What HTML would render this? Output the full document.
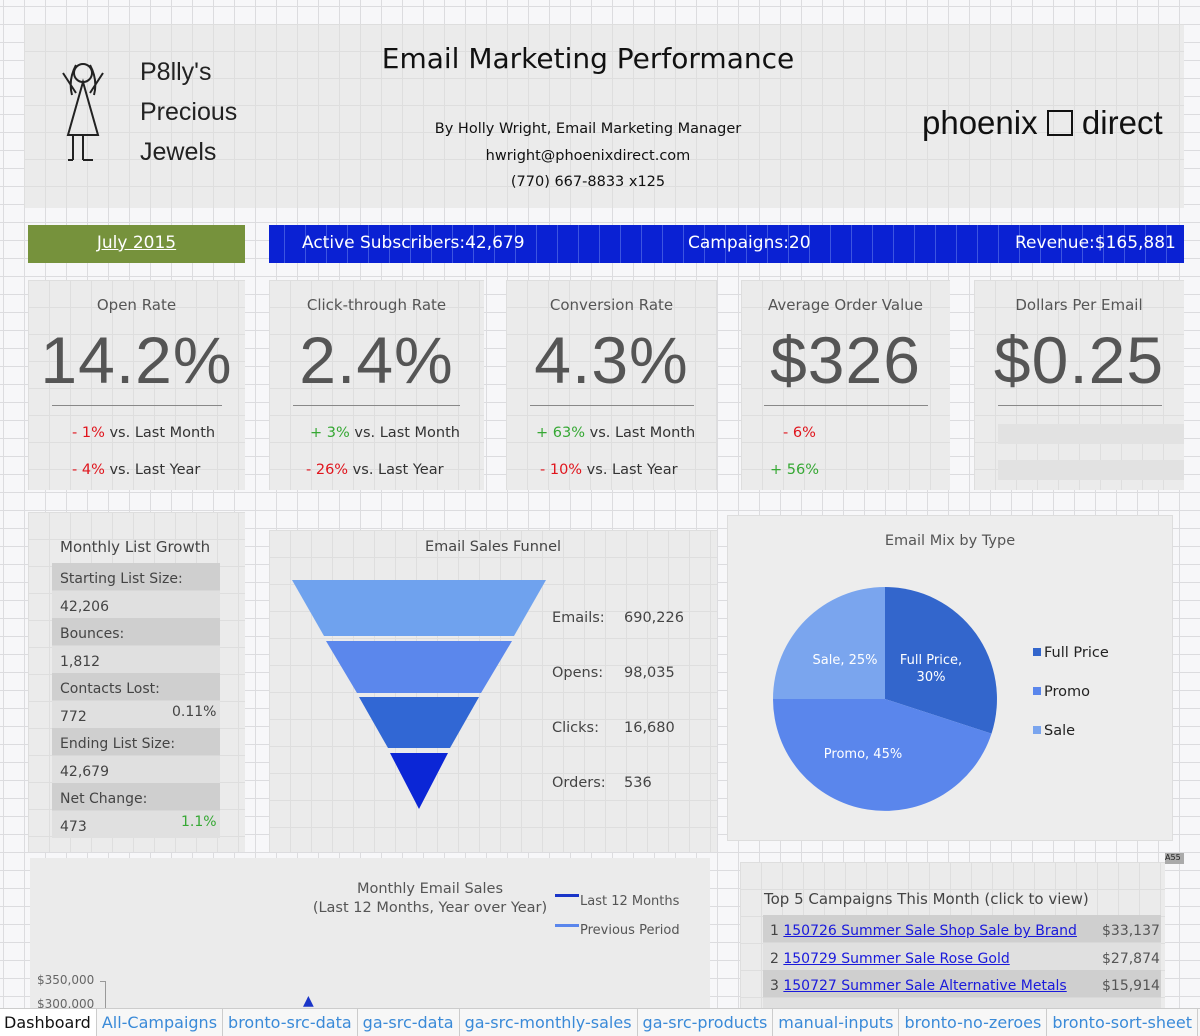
<!DOCTYPE html>
<html><head><meta charset="utf-8"><style>
*{margin:0;padding:0;box-sizing:border-box}
body{width:1200px;height:1036px;overflow:hidden;position:relative;font-family:"DejaVu Sans","Liberation Sans",sans-serif;color:#333;
background-color:#f7f7f9;
background-image:linear-gradient(to right,#dcdcdf 1px,transparent 1px),linear-gradient(to bottom,#dcdcdf 1px,transparent 1px);
background-size:21px 100%,100% 18px;background-position:3px 0,0 6px}
.a{position:absolute}
.g{position:absolute;background-color:#ebebeb;background-image:linear-gradient(to right,#dedede 1px,transparent 1px),linear-gradient(to bottom,#dedede 1px,transparent 1px);background-size:21px 100%,100% 27px}
.t{position:absolute;white-space:nowrap}
.c{text-align:center}
.red{color:#e0151d}.grn{color:#36a834}
.big{font-size:66px;color:#555;font-family:"Liberation Sans",sans-serif;letter-spacing:1px}
.kt{font-size:15px;color:#555}
a{color:#1a1adb}
.tab{display:inline-block;padding:4px 5px 0;height:27px;color:#3a8ad8;border-right:1px solid #ccc}
</style></head><body>
<div class="g" style="left:24px;top:24px;width:1160px;height:184px"></div>
<svg class="a" style="left:58px;top:55px" width="70" height="110" viewBox="0 0 70 110"><g fill="none" stroke="#222" stroke-width="2"><circle cx="25" cy="18" r="9"/><path d="M18 10 Q10 25 14 40 M32 10 Q40 25 36 40 M25 27 L10 80 L40 80 Z M25 80 V105 M15 80 V105 M25 105 H35 M15 105 H10 M18 38 L5 18 M32 38 L45 18"/></g></svg>
<div class="t" style="left:140px;top:52px;font-size:25px;line-height:40px;font-family:'Liberation Sans',sans-serif;color:#222">P8lly's<br>Precious<br>Jewels</div>
<div class="t c" style="left:340px;width:496px;top:42px;font-size:28px;color:#111">Email Marketing Performance</div>
<div class="t c" style="left:340px;width:496px;top:116px;font-size:14.5px;line-height:26.5px;color:#111">By Holly Wright, Email Marketing Manager<br>hwright@phoenixdirect.com<br>(770) 667-8833 x125</div>
<div class="t" style="left:922px;top:104px;font-size:33px;color:#111;font-family:'Liberation Sans',sans-serif">phoenix <span style="display:inline-block;width:26px;height:26px;border:2.5px solid #111;vertical-align:-2px"></span> direct</div>
<div class="a" style="left:28px;top:225px;width:217px;height:38px;background:#76923c"></div>
<div class="t c" style="left:28px;width:217px;top:233px;font-size:17px;color:#fff;text-decoration:underline">July 2015</div>
<div class="a" style="left:269px;top:225px;width:915px;height:38px;background:#0a21d3;background-image:linear-gradient(to right,#3d55e0 1px,transparent 1px);background-size:21px 100%;background-position:-6px 0"></div>
<div class="t" style="left:302px;top:233px;font-size:17px;color:#fff">Active Subscribers:42,679</div>
<div class="t" style="left:688px;top:233px;font-size:17px;color:#fff">Campaigns:20</div>
<div class="t" style="left:1015px;top:233px;font-size:17px;color:#fff">Revenue:$165,881</div>
<div class="g" style="left:28px;top:280px;width:217px;height:210px"></div>
<div class="g" style="left:269px;top:280px;width:215px;height:210px"></div>
<div class="g" style="left:506px;top:280px;width:211px;height:210px"></div>
<div class="g" style="left:741px;top:280px;width:209px;height:210px"></div>
<div class="g" style="left:974px;top:280px;width:210px;height:210px"></div>
<div class="t c kt" style="left:28px;width:217px;top:296px">Open Rate</div>
<div class="t c kt" style="left:269px;width:215px;top:296px">Click-through Rate</div>
<div class="t c kt" style="left:506px;width:211px;top:296px">Conversion Rate</div>
<div class="t c kt" style="left:741px;width:209px;top:296px">Average Order Value</div>
<div class="t c kt" style="left:974px;width:210px;top:296px">Dollars Per Email</div>
<div class="t c big" style="left:28px;width:217px;top:322px">14.2%</div>
<div class="t c big" style="left:269px;width:215px;top:322px">2.4%</div>
<div class="t c big" style="left:506px;width:211px;top:322px">4.3%</div>
<div class="t c big" style="left:741px;width:209px;top:322px">$326</div>
<div class="t c big" style="left:974px;width:210px;top:322px">$0.25</div>
<div class="a" style="left:52px;top:405px;width:170px;height:1px;background:#888"></div>
<div class="a" style="left:293px;top:405px;width:167px;height:1px;background:#888"></div>
<div class="a" style="left:530px;top:405px;width:164px;height:1px;background:#888"></div>
<div class="a" style="left:764px;top:405px;width:164px;height:1px;background:#888"></div>
<div class="a" style="left:998px;top:405px;width:164px;height:1px;background:#888"></div>
<div class="a" style="left:998px;top:424px;width:186px;height:20px;background:#e2e2e2"></div>
<div class="a" style="left:998px;top:460px;width:186px;height:20px;background:#e2e2e2"></div>
<div class="t" style="left:72px;top:425px;font-size:14.5px"><span class="red">- 1%</span> vs. Last Month</div>
<div class="t" style="left:72px;top:462px;font-size:14.5px"><span class="red">- 4%</span> vs. Last Year</div>
<div class="t" style="left:310px;top:425px;font-size:14.5px"><span class="grn">+ 3%</span> vs. Last Month</div>
<div class="t" style="left:306px;top:462px;font-size:14.5px"><span class="red">- 26%</span> vs. Last Year</div>
<div class="t" style="left:536px;top:425px;font-size:14.5px"><span class="grn">+ 63%</span> vs. Last Month</div>
<div class="t" style="left:540px;top:462px;font-size:14.5px"><span class="red">- 10%</span> vs. Last Year</div>
<div class="t" style="left:783px;top:425px;font-size:14.5px"><span class="red">- 6%</span></div>
<div class="t" style="left:770px;top:462px;font-size:14.5px"><span class="grn">+ 56%</span></div>
<div class="g" style="left:28px;top:512px;width:217px;height:340px"></div>
<div class="t" style="left:60px;top:538px;font-size:15px;color:#444">Monthly List Growth</div>
<div class="a" style="left:52px;top:563px;width:168px;height:275px;background:repeating-linear-gradient(#cfcfcf 0 27.5px,#e0e0e0 27.5px 55px)"></div>
<div class="t" style="left:60px;top:566px;font-size:14px;line-height:27.5px;color:#444">Starting List Size:<br>42,206<br>Bounces:<br>1,812<br>Contacts Lost:<br>772<br>Ending List Size:<br>42,679<br>Net Change:<br>473</div>
<div class="t" style="left:172px;top:704px;font-size:14px;color:#444">0.11%</div>
<div class="t grn" style="left:181px;top:814px;font-size:14px">1.1%</div>
<div class="g" style="left:269px;top:530px;width:448px;height:322px"></div>
<div class="t c" style="left:269px;width:448px;top:539px;font-size:14.5px;color:#444">Email Sales Funnel</div>
<svg class="a" style="left:292px;top:578px" width="256" height="232"><polygon points="0,2 254,2 222,58 32,58" fill="#6fa2ee"/><polygon points="34,63 220,63 189,115 65,115" fill="#5b87ec"/><polygon points="67,119 187,119 158,170 96,170" fill="#3167d4"/><polygon points="98,175 156,175 127,231" fill="#0b26d6"/></svg>
<div class="t" style="left:552px;top:591px;font-size:14.5px;line-height:55px;color:#444">Emails:<br>Opens:<br>Clicks:<br>Orders:</div>
<div class="t" style="left:624px;top:591px;font-size:14.5px;line-height:55px;color:#444">690,226<br>98,035<br>16,680<br>536</div>
<div class="a" style="left:727px;top:515px;width:446px;height:326px;background:#ededed;border:1px solid #ddd"></div>
<div class="t c" style="left:727px;width:446px;top:533px;font-size:14.5px;color:#555">Email Mix by Type</div>
<svg class="a" style="left:772px;top:586px" width="226" height="226" viewBox="-113 -113 226 226"><path d="M0 0 L0 -112 A112 112 0 0 1 106.5 34.6 Z" fill="#3366cc"/><path d="M0 0 L106.5 34.6 A112 112 0 0 1 -112 0 Z" fill="#5a86ec"/><path d="M0 0 L-112 0 A112 112 0 0 1 0 -112 Z" fill="#7aa5ee"/>
<text x="46" y="-35" fill="#fff" font-size="13" text-anchor="middle" font-family="DejaVu Sans">Full Price,</text><text x="46" y="-18" fill="#fff" font-size="13" text-anchor="middle" font-family="DejaVu Sans">30%</text><text x="-40" y="-35" fill="#fff" font-size="13" text-anchor="middle" font-family="DejaVu Sans">Sale, 25%</text><text x="-22" y="59" fill="#fff" font-size="13" text-anchor="middle" font-family="DejaVu Sans">Promo, 45%</text></svg>
<div class="a" style="left:1033px;top:648px;width:8px;height:8px;background:#3366cc"></div>
<div class="a" style="left:1033px;top:687px;width:8px;height:8px;background:#5a86ec"></div>
<div class="a" style="left:1033px;top:726px;width:8px;height:8px;background:#7aa5ee"></div>
<div class="t" style="left:1044px;top:634px;font-size:14.5px;line-height:39px;color:#222">Full Price<br>Promo<br>Sale</div>
<div class="a" style="left:1165px;top:853px;width:19px;height:11px;background:#aaa;font-size:8px;color:#222">A55</div>
<div class="a" style="left:30px;top:858px;width:680px;height:150px;background:#ebebeb"></div>
<div class="t c" style="left:230px;width:400px;top:880px;font-size:14.5px;line-height:19px;color:#555">Monthly Email Sales<br>(Last 12 Months, Year over Year)</div>
<div class="a" style="left:555px;top:894px;width:24px;height:3px;background:#1a35c8"></div>
<div class="a" style="left:555px;top:924px;width:24px;height:3px;background:#5a86ec"></div>
<div class="t" style="left:580px;top:887px;font-size:13px;line-height:29px;color:#555">Last 12 Months<br>Previous Period</div>
<div class="t" style="left:37px;top:973px;font-size:12px;color:#666">$350,000</div>
<div class="t" style="left:37px;top:997px;font-size:12px;color:#666">$300,000</div>
<div class="a" style="left:105px;top:982px;width:1px;height:30px;background:#999"></div>
<div class="a" style="left:100px;top:981px;width:6px;height:1px;background:#999"></div>
<div class="t" style="left:303px;top:993px;font-size:14px;color:#1a35c8">▲</div>
<div class="g" style="left:740px;top:862px;width:425px;height:146px"></div>
<div class="t" style="left:764px;top:890px;font-size:15px;color:#444">Top 5 Campaigns This Month (click to view)</div>
<div class="a" style="left:763px;top:915px;width:398px;height:93px;background:repeating-linear-gradient(#cfcfcf 0 27.5px,#e0e0e0 27.5px 55px)"></div>
<div class="t" style="left:770px;top:918px;font-size:14px;line-height:27.5px;color:#444">1 <a href="#">150726 Summer Sale Shop Sale by Brand</a><br>2 <a href="#">150729 Summer Sale Rose Gold</a><br>3 <a href="#">150727 Summer Sale Alternative Metals</a></div>
<div class="t" style="left:1102px;top:918px;font-size:14px;line-height:27.5px;color:#555">$33,137<br>$27,874<br>$15,914</div>
<div class="a" style="left:0;top:1008px;width:1200px;height:28px;overflow:hidden;background:#f7f7f7;border-top:1px solid #ccc;font-size:16px;white-space:nowrap">
<span class="tab" style="padding-left:4px;background:#fff;color:#111">Dashboard</span><span class="tab">All-Campaigns</span><span class="tab">bronto-src-data</span><span class="tab">ga-src-data</span><span class="tab">ga-src-monthly-sales</span><span class="tab">ga-src-products</span><span class="tab">manual-inputs</span><span class="tab">bronto-no-zeroes</span><span class="tab">bronto-sort-sheet</span><span class="tab">ga-products</span>
</div>
</body></html>
